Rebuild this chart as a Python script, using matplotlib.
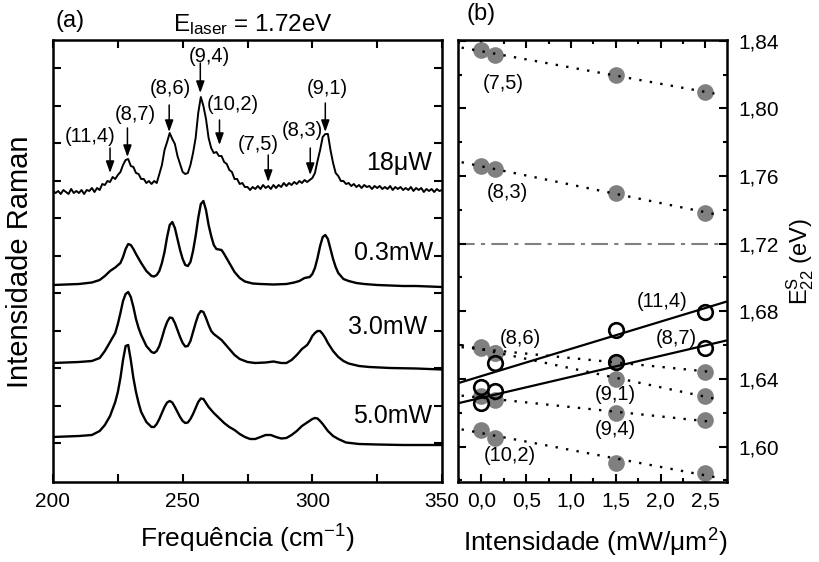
import matplotlib
matplotlib.use('Agg')
import matplotlib.pyplot as plt
import numpy as np
from matplotlib.ticker import MultipleLocator, FuncFormatter, FixedLocator

plt.rcParams['font.family'] = ['Liberation Sans', 'DejaVu Sans']
plt.rcParams['mathtext.fontset'] = 'custom'
plt.rcParams['mathtext.rm'] = 'Liberation Sans'
plt.rcParams['mathtext.it'] = 'Liberation Sans:italic'
plt.rcParams['mathtext.bf'] = 'Liberation Sans:bold'

# ---------------- panel (a) data : Raman spectra (arb. units, offset) ----------------
freq_18uW = [200, 201, 202, 203, 204, 205, 206, 207, 208, 209, 210, 211, 212, 213, 214, 215,
             216, 217, 218, 219, 220, 221, 222, 223, 224, 225, 226, 227, 228, 229, 230, 231,
             232, 233, 234, 235, 236, 237, 238, 239, 240, 241, 242, 243, 244, 245, 246, 247,
             248, 249, 250, 251, 252, 253, 254, 255, 256, 257, 258, 259, 260, 261, 262, 263,
             264, 265, 266, 267, 268, 269, 270, 271, 272, 273, 274, 275, 276, 277, 278, 279,
             280, 281, 282, 283, 284, 285, 286, 287, 288, 289, 290, 291, 292, 293, 294, 295,
             296, 297, 298, 299, 300, 301, 302, 303, 304, 305, 306, 307, 308, 309, 310, 311,
             312, 313, 314, 315, 316, 317, 318, 319, 320, 321, 322, 323, 324, 325, 326, 327,
             328, 329, 330, 331, 332, 333, 334, 335, 336, 337, 338, 339, 340, 341, 342, 343,
             344, 345, 346, 347, 348, 349, 350]
int_18uW = [291, 289, 291, 288, 292, 290, 288, 293, 289, 291, 289, 292, 288, 292, 291, 294,
            290, 294, 292, 298, 297, 301, 300, 305, 303, 307, 310, 317, 322, 323, 316, 315,
            309, 308, 303, 303, 299, 301, 298, 301, 299, 308, 317, 332, 340, 349, 343, 338,
            326, 318, 310, 308, 309, 317, 329, 344, 369, 385, 376, 363, 344, 334, 329, 330,
            326, 326, 320, 318, 312, 310, 303, 303, 298, 299, 295, 295, 292, 295, 293, 296,
            293, 297, 294, 296, 293, 297, 294, 297, 295, 299, 296, 299, 297, 300, 298, 301,
            299, 302, 300, 302, 304, 309, 321, 332, 345, 348, 348, 332, 319, 309, 306, 301,
            301, 298, 299, 296, 298, 295, 297, 294, 297, 295, 296, 293, 296, 294, 296, 293,
            295, 293, 296, 292, 295, 293, 295, 292, 294, 292, 295, 291, 294, 292, 294, 290,
            293, 291, 293, 290, 293, 291, 292]

freq_03mW = [200, 205, 210, 215, 218, 220, 222, 224, 226, 227, 228, 229, 230, 231, 232, 234,
             236, 238, 239, 240, 241, 242, 243, 244, 245, 246, 247, 248, 249, 250, 251, 252,
             253, 254, 255, 256, 257, 258, 259, 260, 261, 262, 263, 264, 265, 266, 268, 270,
             272, 274, 277, 280, 285, 290, 293, 295, 297, 299, 300, 301, 302, 303, 304, 305,
             306, 307, 308, 309, 310, 312, 314, 317, 320, 325, 330, 335, 340, 345, 350]
int_03mW = [197, 197.5, 198, 199.5, 202, 206, 211, 214.5, 219, 225, 233, 238, 237, 233, 228, 219,
            211, 206, 205.5, 207, 211, 219, 230, 245, 257, 260, 254, 243, 232, 223, 217, 216,
            220, 231, 246, 264, 278, 281, 272, 257, 246, 237, 233, 232.5, 232, 228, 219, 210,
            204, 200.5, 198.5, 198, 197.5, 198, 199.5, 201, 204, 205, 208, 214, 224, 236, 245, 247,
            243, 233, 223, 215, 209, 203, 201, 199, 198, 197, 196.5, 196, 196, 195.5, 195]

freq_30mW = [200, 205, 210, 215, 218, 220, 222, 224, 225, 226, 227, 228, 229, 230, 231, 232,
             233, 234, 236, 238, 239, 240, 241, 242, 243, 244, 245, 246, 247, 248, 249, 250,
             251, 252, 253, 254, 255, 256, 257, 258, 259, 260, 261, 262, 263, 264, 265, 266,
             268, 270, 272, 275, 278, 282, 285, 288, 290, 292, 294, 296, 297, 298, 299, 300,
             301, 302, 303, 304, 305, 306, 307, 308, 310, 312, 314, 318, 322, 330, 340, 350]
int_30mW = [119, 119.5, 120, 121, 124, 131, 140, 149, 158, 169, 181, 188, 190, 185, 175, 163,
            154, 147, 136, 130, 129, 131, 136, 144, 153, 160, 164.5, 164, 159, 152, 145, 139,
            135.5, 136, 141, 150, 159, 167, 171, 170, 164, 157, 151, 148, 146, 144, 142, 139,
            133, 127, 123, 120, 119, 119.5, 120.5, 119, 119, 122, 127, 133, 135, 137, 141, 146,
            149, 151, 151, 148, 144, 139, 135, 131, 125, 121, 118.5, 116, 115, 114, 113.5, 112.5]

freq_50mW = [200, 205, 210, 215, 218, 220, 222, 224, 225, 226, 227, 228, 229, 230, 231, 232,
             233, 234, 236, 238, 239, 240, 241, 242, 243, 244, 245, 246, 247, 248, 249, 250,
             251, 252, 253, 254, 255, 256, 257, 258, 259, 260, 261, 262, 263, 264, 266, 268,
             270, 272, 274, 276, 278, 280, 282, 284, 286, 288, 290, 292, 294, 296, 298, 300,
             301, 302, 303, 304, 306, 308, 310, 313, 318, 325, 335, 350]
int_50mW = [45, 45.5, 46, 47, 51, 57, 66, 80, 90, 104, 122, 136, 137, 122, 104, 90,
            79, 70, 60, 55, 55, 58, 63, 69, 75, 79.5, 81, 79.5, 75, 70, 65, 61,
            59, 59.5, 63, 68, 74, 80, 83.5, 83, 79, 75, 72, 69, 66.5, 64, 59, 55,
            52, 48, 45, 43, 43, 45, 47, 47, 45, 43.5, 44, 47, 51, 56, 59.5, 63,
            64, 63.5, 61, 58, 51, 46, 43, 39.5, 38, 37.5, 37, 37]

power_labels = ['18\u03bcW', '0.3mW', '3.0mW', '5.0mW']
power_label_pos = [(346.3, 312), (346.7, 222), (344.4, 147.7), (346.3, 58.7)]

# arrows (chirality assignment): frequency, arrow tail height, tip height
peak_names = ['(11,4)', '(8,7)', '(8,6)', '(9,4)', '(10,2)', '(7,5)', '(8,3)', '(9,1)']
peak_freq = [222.0, 228.7, 244.8, 256.8, 264.2, 283.0, 299.2, 305.0]
arrow_tail = [334, 354, 377, 419, 362, 327, 334, 379]
arrow_tip = [309, 325, 350, 389, 337, 300, 307, 350]
peak_label_pos = [(214.3, 345), (231.7, 367), (245.2, 394), (260.2, 425),
                  (269.5, 377), (279.2, 337), (296.1, 352), (305.8, 394)]

# ---------------- panel (b) data : E22 vs laser intensity ----------------
intensity = [0.0, 0.15, 1.5, 2.5]
E22_75 = [1.8345, 1.8316, 1.8198, 1.8096]
E22_83 = [1.7659, 1.7639, 1.7498, 1.7384]
E22_86 = [1.6590, 1.6551, 1.6502, 1.6443]
E22_91 = [1.6585, 1.6551, 1.6398, 1.6300]
E22_94 = [1.6296, 1.6276, 1.6198, 1.6155]
E22_102 = [1.6100, 1.6053, 1.5904, 1.5845]
E22_114 = [1.6352, 1.6495, 1.6692, 1.6796]
E22_87 = [1.6255, 1.6330, 1.6502, 1.6580]
E_laser = 1.72

labels_b = ['(7,5)', '(8,3)', '(11,4)', '(8,7)', '(8,6)', '(9,1)', '(9,4)', '(10,2)']
labels_b_pos = [(0.25, 1.8147), (0.29, 1.750), (2.02, 1.6855), (2.17, 1.664),
                (0.44, 1.664), (1.49, 1.6306), (1.50, 1.610), (0.32, 1.5947)]

# ---------------- figure ----------------
W, H = 820, 562
fig = plt.figure(figsize=(W / 100, H / 100), dpi=100)


def rect(x0, y0, x1, y1):
    return [x0 / W, 1 - y1 / H, (x1 - x0) / W, (y1 - y0) / H]


axa = fig.add_axes(rect(53, 40, 442, 482))
axb = fig.add_axes(rect(458, 40, 727, 482))

TICK_FS = 15
for ax in (axa, axb):
    for s in ax.spines.values():
        s.set_linewidth(1.8)
    ax.tick_params(which='both', direction='in', top=True, right=True, width=1.5,
                   labelsize=TICK_FS)
    ax.tick_params(which='major', length=5.5)
    ax.tick_params(which='minor', length=3)

# ---- panel (a)
axa.plot(freq_18uW, int_18uW, color='k', lw=1.4)
axa.plot(freq_03mW, int_03mW, color='k', lw=1.7)
axa.plot(freq_30mW, int_30mW, color='k', lw=1.7)
axa.plot(freq_50mW, int_50mW, color='k', lw=1.7)
axa.set_xlim(200, 350)
axa.set_ylim(0, 442)
axa.xaxis.set_major_locator(FixedLocator([200, 250, 300, 350]))
axa.xaxis.set_minor_locator(MultipleLocator(25))
axa.yaxis.set_major_locator(FixedLocator(np.arange(39, 442, 37.5)))
axa.tick_params(axis='y', labelleft=False)
axa.tick_params(axis='x', which='major', pad=7, length=5.5)
axa.tick_params(axis='x', which='minor', length=5.5)

for lab, (x, y) in zip(power_labels, power_label_pos):
    axa.text(x, y, lab, ha='right', va='baseline', fontsize=18)

for name, f, t0, t1, (lx, ly) in zip(peak_names, peak_freq, arrow_tail, arrow_tip,
                                    peak_label_pos):
    axa.annotate('', xy=(f, t1), xytext=(f, t0),
                 arrowprops=dict(arrowstyle='-|>,head_length=0.7,head_width=0.25',
                                 color='k', lw=1.1, shrinkA=0, shrinkB=0))
    axa.text(lx, ly, name, ha='center', va='center', fontsize=14.5)

fig.text(247 / W, 1 - 548 / H, 'Frequ\u00eancia (cm$^{-1}$)', ha='center', va='baseline',
         fontsize=19)
fig.text(20 / W, 1 - 262 / H, 'Intensidade Raman', rotation=90, ha='center', va='center',
         fontsize=21)
fig.text(70 / W, 1 - 27 / H, '(a)', ha='center', va='baseline', fontsize=17)
fig.text(253 / W, 1 - 31 / H, 'E$_{\\rm laser}$ = 1.72eV', ha='center', va='baseline',
         fontsize=17.5)

# ---- panel (b)
xs_dot = np.array([-0.22, 2.6])
x_lim_b = (-0.26, 2.74)
for ys in (E22_75, E22_83, E22_86, E22_91, E22_94, E22_102):
    axb.plot(intensity, ys, 'o', ms=12, color='#808080', mec='none', zorder=2)
    p = np.polyfit(intensity, ys, 1)
    axb.plot(xs_dot, np.polyval(p, xs_dot), color='k', lw=1.7,
             linestyle=(0, (1, 3.5)), zorder=3)

xs_full = np.array(x_lim_b)
for ys in (E22_114, E22_87):
    p = np.polyfit(intensity, ys, 1)
    axb.plot(xs_full, np.polyval(p, xs_full), color='k', lw=1.6, zorder=4)
    axb.plot(intensity, ys, 'o', ms=10.5, mfc='none', mec='k', mew=1.9, zorder=5)

axb.axhline(E_laser, color='#808080', lw=1.5, linestyle=(0, (8, 3, 2, 3)), zorder=1)

for lab, (x, y) in zip(labels_b, labels_b_pos):
    axb.text(x, y, lab, ha='center', va='center', fontsize=14.5, zorder=6)

axb.set_xlim(*x_lim_b)
axb.set_ylim(1.579, 1.8405)
axb.xaxis.set_major_locator(MultipleLocator(0.5))
axb.xaxis.set_minor_locator(MultipleLocator(0.25))
axb.yaxis.set_major_locator(MultipleLocator(0.04))
axb.yaxis.set_minor_locator(MultipleLocator(0.02))
axb.xaxis.set_major_formatter(FuncFormatter(lambda v, p: f'{v:.1f}'.replace('.', ',')))
axb.yaxis.set_major_formatter(FuncFormatter(lambda v, p: f'{v:.2f}'.replace('.', ',')))
axb.tick_params(axis='y', labelleft=False, labelright=True, pad=8)
axb.tick_params(axis='x', pad=7)

fig.text(595 / W, 1 - 552 / H, 'Intensidade (mW/\u03bcm$^2$)', ha='center', va='baseline',
         fontsize=19)
fig.text(481 / W, 1 - 20 / H, '(b)', ha='center', va='baseline', fontsize=17)
fig.text(800 / W, 1 - 262 / H, 'E$^{\\rm S}_{22}$ (eV)', rotation=90, ha='center',
         va='center', fontsize=17)

fig.savefig('out.png', dpi=100)
